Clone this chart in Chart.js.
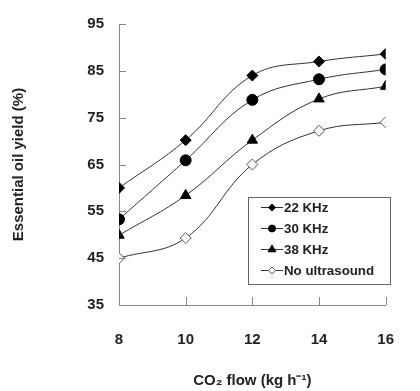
<!DOCTYPE html>
<html>
<head>
<meta charset="utf-8">
<script src="https://cdn.jsdelivr.net/npm/chart.js@4/dist/chart.umd.min.js"></script>
<style>
  body { margin: 0; background: #fff; }
  #chart { display: block; }
</style>
</head>
<body>
<canvas id="chart" width="420" height="391"></canvas>
<script>
// CO2 flow (kg/h)
const flows = [8, 10, 12, 14, 16];
const yield22 = [60, 70.2, 84, 87, 88.6];
const yield30 = [53.3, 65.9, 78.8, 83.2, 85.3];
const yield38 = [49.9, 58.4, 70.2, 79, 81.7];
const yieldNone = [45, 49.3, 65, 72.2, 74];
const seriesNames = ['22 KHz', '30 KHz', '38 KHz', 'No ultrasound'];
const yTicks = [35, 45, 55, 65, 75, 85, 95];

var fontFamily = '"Liberation Sans", Arial, sans-serif';
var axisColor = '#888';

function points(values) {
    return flows.map(function (f, i) { return { x: f, y: values[i] }; });
}

function series(label, values, style, fill) {
    return {
        label: label,
        data: points(values),
        borderColor: '#333',
        borderWidth: 1,
        tension: 0.4,
        pointStyle: style,
        pointRadius: style === 'triangle' ? 6 : 5.5,
        pointBackgroundColor: fill,
        pointBorderColor: fill === '#fff' ? '#555' : '#000',
        pointBorderWidth: 1
    };
}

// inward tick marks, as in the original plot
const innerTicks = {
    id: 'innerTicks',
    afterDraw: function (chart) {
        var ctx = chart.ctx;
        var xs = chart.scales.x, ys = chart.scales.y;
        ctx.save();
        ctx.strokeStyle = axisColor;
        ctx.lineWidth = 1;
        ys.ticks.forEach(function (t) {
            var y = Math.round(ys.getPixelForValue(t.value)) + 0.5;
            ctx.beginPath();
            ctx.moveTo(xs.left, y);
            ctx.lineTo(xs.left + 7, y);
            ctx.stroke();
        });
        xs.ticks.forEach(function (t) {
            var x = Math.round(xs.getPixelForValue(t.value)) + 0.5;
            ctx.beginPath();
            ctx.moveTo(x, ys.bottom);
            ctx.lineTo(x, ys.bottom - 8);
            ctx.stroke();
        });
        ctx.restore();
    }
};

// boxed legend inside the plot area
const boxLegend = {
    id: 'boxLegend',
    afterDraw: function (chart) {
        var ctx = chart.ctx;
        ctx.save();
        ctx.strokeStyle = '#666';
        ctx.lineWidth = 1;
        ctx.strokeRect(248.5, 197.5, 142, 87);
        ctx.font = 'bold 13.3px ' + fontFamily;
        ctx.textBaseline = 'middle';
        chart.data.datasets.forEach(function (ds, i) {
            var y = 207.5 + i * 21;
            ctx.strokeStyle = '#333';
            ctx.beginPath();
            ctx.moveTo(261, y);
            ctx.lineTo(283, y);
            ctx.stroke();
            ctx.fillStyle = ds.pointBackgroundColor;
            ctx.strokeStyle = ds.pointBorderColor;
            Chart.helpers.drawPoint(ctx, {
                pointStyle: ds.pointStyle,
                radius: ds.pointStyle === 'triangle' ? 4.5 : 3.5,
                rotation: 0,
                borderWidth: 1
            }, 272, y);
            ctx.fillStyle = '#222';
            ctx.fillText(ds.label, 284, y + 0.5);
        });
        ctx.restore();
    }
};

new Chart(document.getElementById('chart'), {
    type: 'line',
    data: {
        datasets: [
            series(seriesNames[0], yield22, 'rectRot', '#000'),
            series(seriesNames[1], yield30, 'circle', '#000'),
            series(seriesNames[2], yield38, 'triangle', '#000'),
            series(seriesNames[3], yieldNone, 'rectRot', '#fff')
        ]
    },
    options: {
        responsive: false,
        animation: false,
        layout: { padding: { left: 0, top: 24, right: 18, bottom: 0 } },
        plugins: {
            legend: { display: false },
            tooltip: { enabled: false }
        },
        scales: {
            x: {
                type: 'linear',
                min: 8,
                max: 16,
                afterBuildTicks: function (scale) {
                    scale.ticks = flows.map(function (v) { return { value: v }; });
                },
                afterFit: function (scale) { scale.height = 86; },
                grid: { display: false, drawTicks: false },
                border: { display: true, color: axisColor, width: 1 },
                ticks: {
                    padding: 26,
                    color: '#222',
                    font: { family: fontFamily, size: 15, weight: 'bold' }
                },
                title: {
                    display: true,
                    text: 'CO₂ flow (kg h⁻¹)',
                    color: '#222',
                    padding: { top: 0, bottom: 1 },
                    font: { family: fontFamily, size: 15, weight: 'bold' }
                }
            },
            y: {
                min: 35,
                max: 95,
                afterBuildTicks: function (scale) {
                    scale.ticks = yTicks.map(function (v) { return { value: v }; });
                },
                afterFit: function (scale) { scale.width = 119; },
                grid: { display: false, drawTicks: false },
                border: { display: true, color: axisColor, width: 1 },
                ticks: {
                    padding: 15,
                    color: '#222',
                    font: { family: fontFamily, size: 15, weight: 'bold' }
                },
                title: {
                    display: true,
                    text: 'Essential oil yield (%)',
                    color: '#222',
                    padding: { top: 10, bottom: 0 },
                    font: { family: fontFamily, size: 15, weight: 'bold' }
                }
            }
        }
    },
    plugins: [innerTicks, boxLegend]
});
</script>
</body>
</html>
